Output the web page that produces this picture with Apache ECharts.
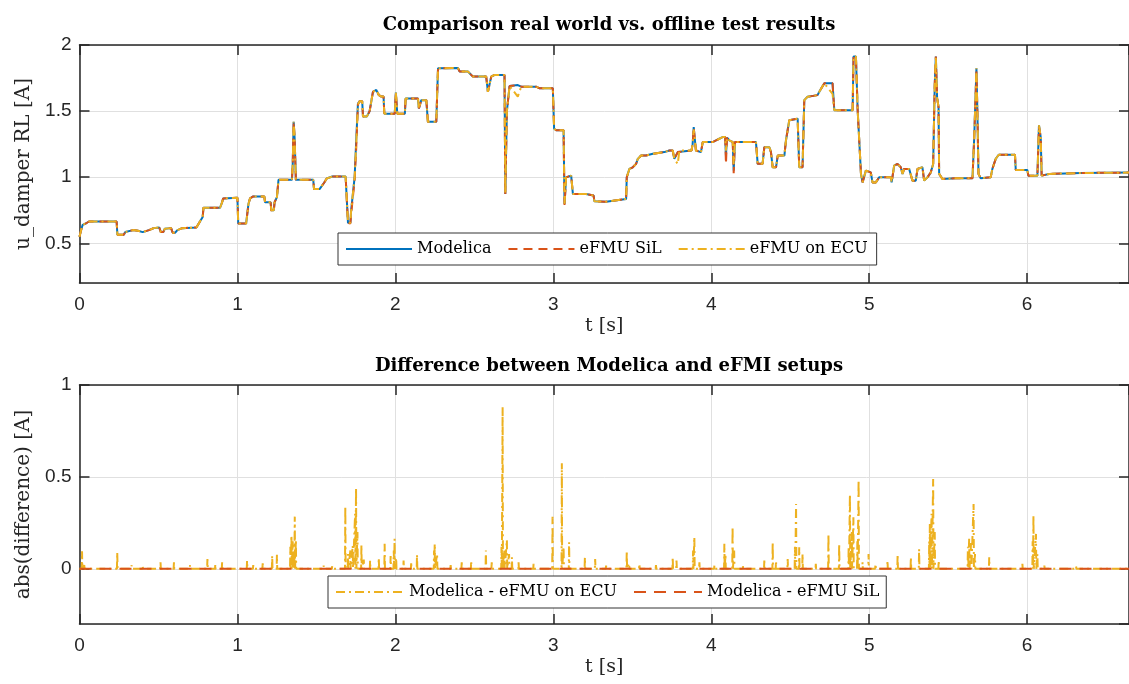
<!DOCTYPE html>
<html>
<head>
<meta charset="utf-8">
<script src="https://cdn.jsdelivr.net/npm/echarts@6/dist/echarts.min.js"></script>
<style>
html,body{margin:0;padding:0;background:#fff;}
#chart{width:1129px;height:684px;}
</style>
</head>
<body>
<div id="chart"></div>
<script>
// ---------- Top panel: time stamps [s] ----------
const topTime = [
0, 0.01, 0.02, 0.04, 0.06, 0.235, 0.24, 0.28, 0.29, 0.30,
0.34, 0.37, 0.40, 0.44, 0.47, 0.505, 0.515, 0.53, 0.54, 0.58,
0.59, 0.605, 0.62, 0.65, 0.74, 0.76, 0.78, 0.785, 0.89, 0.90,
0.91, 1.0, 1.005, 1.055, 1.07, 1.08, 1.10, 1.17, 1.175, 1.21,
1.215, 1.23, 1.235, 1.25, 1.26, 1.345, 1.35, 1.356, 1.362, 1.37,
1.48, 1.485, 1.52, 1.55, 1.565, 1.60, 1.685, 1.70, 1.715, 1.72,
1.742, 1.752, 1.763, 1.774, 1.79, 1.795, 1.82, 1.837, 1.858, 1.879,
1.896, 1.911, 1.925, 1.93, 1.996, 2.003, 2.012, 2.06, 2.065, 2.143,
2.149, 2.164, 2.196, 2.206, 2.259, 2.27, 2.28, 2.396, 2.407, 2.459,
2.491, 2.575, 2.586, 2.607, 2.628, 2.691, 2.696, 2.706, 2.723, 2.733,
2.775, 2.797, 2.891, 2.913, 2.997, 3.005, 3.018, 3.065, 3.071, 3.081,
3.092, 3.113, 3.124, 3.208, 3.255, 3.26, 3.334, 3.34, 3.461, 3.465,
3.482, 3.503, 3.524, 3.535, 3.556, 3.587, 3.63, 3.703, 3.735, 3.756,
3.766, 3.788, 3.798, 3.875, 3.882, 3.889, 3.895, 3.903, 3.935, 3.946,
4.009, 4.03, 4.051, 4.072, 4.088, 4.093, 4.10, 4.115, 4.136, 4.142,
4.15, 4.283, 4.294, 4.325, 4.336, 4.368, 4.378, 4.389, 4.41, 4.421,
4.463, 4.473, 4.494, 4.547, 4.557, 4.578, 4.589, 4.61, 4.673, 4.684,
4.716, 4.768, 4.779, 4.895, 4.901, 4.916, 4.927, 4.937, 4.948, 4.958,
4.979, 5.01, 5.021, 5.042, 5.063, 5.137, 5.142, 5.147, 5.158, 5.179,
5.2, 5.211, 5.221, 5.253, 5.274, 5.295, 5.306, 5.337, 5.348, 5.369,
5.39, 5.405, 5.415, 5.422, 5.43, 5.439, 5.443, 5.464, 5.548, 5.654,
5.665, 5.679, 5.685, 5.692, 5.706, 5.769, 5.78, 5.801, 5.82, 5.923,
5.928, 6.001, 6.008, 6.065, 6.075, 6.086, 6.092, 6.139, 6.339, 6.349,
6.645
];

// u_damper RL [A], Modelica
const modelicaValues = [
0.55, 0.60, 0.64, 0.65, 0.665, 0.665, 0.565, 0.565, 0.585, 0.595,
0.60, 0.595, 0.585, 0.60, 0.615, 0.62, 0.585, 0.585, 0.61, 0.615,
0.58, 0.58, 0.60, 0.615, 0.62, 0.66, 0.70, 0.77, 0.77, 0.80,
0.84, 0.845, 0.65, 0.65, 0.80, 0.84, 0.855, 0.855, 0.81, 0.81,
0.75, 0.75, 0.81, 0.85, 0.98, 0.98, 1.10, 1.42, 1.30, 0.98,
0.98, 0.91, 0.91, 0.96, 0.99, 1.005, 1.005, 0.655, 0.655, 0.75,
1.0, 1.28, 1.557, 1.575, 1.575, 1.46, 1.46, 1.50, 1.646, 1.66,
1.62, 1.61, 1.61, 1.48, 1.48, 1.64, 1.48, 1.48, 1.596, 1.596,
1.52, 1.583, 1.583, 1.419, 1.419, 1.824, 1.837, 1.826, 1.80, 1.80,
1.761, 1.761, 1.646, 1.761, 1.774, 1.774, 0.873, 1.50, 1.69, 1.697,
1.697, 1.685, 1.685, 1.672, 1.672, 1.368, 1.355, 1.355, 0.797, 0.999,
1.012, 1.012, 0.873, 0.873, 0.861, 0.818, 0.815, 0.828, 0.836, 1.0,
1.063, 1.075, 1.101, 1.139, 1.164, 1.164, 1.177, 1.19, 1.202, 1.202,
1.139, 1.19, 1.202, 1.202, 1.25, 1.38, 1.30, 1.202, 1.19, 1.266,
1.266, 1.278, 1.291, 1.304, 1.304, 1.164, 1.30, 1.278, 1.266, 1.05,
1.266, 1.266, 1.101, 1.101, 1.227, 1.227, 1.19, 1.075, 1.075, 1.164,
1.164, 1.278, 1.431, 1.443, 1.075, 1.075, 1.583, 1.608, 1.621, 1.646,
1.71, 1.71, 1.507, 1.507, 1.913, 1.913, 1.507, 1.507, 1.025, 0.961,
1.05, 1.037, 0.961, 0.961, 0.999, 0.999, 0.961, 0.999, 1.088, 1.101,
1.075, 1.025, 1.063, 1.063, 0.974, 0.974, 1.063, 1.075, 0.974, 0.999,
1.037, 1.10, 1.70, 1.913, 1.60, 1.532, 1.025, 0.987, 0.992, 0.992,
1.30, 1.824, 1.50, 1.025, 0.992, 0.999, 1.063, 1.139, 1.17, 1.17,
1.055, 1.055, 1.012, 1.012, 1.393, 1.304, 1.012, 1.025, 1.032, 1.037,
1.035
];

// u_damper RL [A], eFMU SiL
const silValues = [
0.55, 0.60, 0.64, 0.65, 0.665, 0.665, 0.565, 0.565, 0.585, 0.595,
0.60, 0.595, 0.585, 0.60, 0.615, 0.62, 0.585, 0.585, 0.61, 0.615,
0.58, 0.58, 0.60, 0.615, 0.62, 0.66, 0.70, 0.77, 0.77, 0.80,
0.84, 0.845, 0.65, 0.65, 0.80, 0.84, 0.855, 0.855, 0.81, 0.81,
0.74, 0.74, 0.81, 0.85, 0.98, 0.98, 1.10, 1.42, 1.30, 0.98,
0.98, 0.91, 0.91, 0.96, 0.99, 1.005, 1.005, 0.655, 0.65, 0.72,
0.98, 1.22, 1.55, 1.575, 1.575, 1.46, 1.46, 1.50, 1.646, 1.66,
1.62, 1.61, 1.61, 1.48, 1.48, 1.64, 1.48, 1.48, 1.596, 1.596,
1.52, 1.583, 1.583, 1.419, 1.419, 1.824, 1.837, 1.826, 1.80, 1.80,
1.761, 1.761, 1.646, 1.761, 1.774, 1.774, 0.873, 1.50, 1.69, 1.697,
1.697, 1.685, 1.685, 1.672, 1.672, 1.368, 1.355, 1.355, 0.79, 0.999,
1.012, 1.012, 0.873, 0.873, 0.861, 0.818, 0.815, 0.828, 0.836, 1.0,
1.063, 1.075, 1.101, 1.139, 1.164, 1.164, 1.177, 1.19, 1.202, 1.202,
1.139, 1.19, 1.202, 1.202, 1.25, 1.38, 1.30, 1.202, 1.19, 1.266,
1.266, 1.278, 1.291, 1.304, 1.304, 1.10, 1.30, 1.278, 1.266, 1.03,
1.266, 1.266, 1.101, 1.101, 1.227, 1.227, 1.19, 1.075, 1.075, 1.164,
1.164, 1.278, 1.431, 1.443, 1.075, 1.075, 1.583, 1.608, 1.621, 1.646,
1.71, 1.71, 1.507, 1.507, 1.913, 1.913, 1.507, 1.507, 1.025, 0.961,
1.05, 1.037, 0.961, 0.961, 0.999, 0.999, 0.961, 0.999, 1.088, 1.101,
1.075, 1.025, 1.063, 1.063, 0.974, 0.974, 1.063, 1.075, 0.974, 0.999,
1.037, 1.10, 1.70, 1.913, 1.60, 1.532, 1.025, 0.987, 0.992, 0.992,
1.30, 1.80, 1.50, 1.025, 0.992, 0.999, 1.063, 1.139, 1.17, 1.17,
1.055, 1.055, 1.012, 1.012, 1.38, 1.304, 1.012, 1.025, 1.032, 1.037,
1.035
];

// u_damper RL [A], eFMU on ECU
const ecuValues = [
0.55, 0.60, 0.64, 0.65, 0.665, 0.665, 0.565, 0.565, 0.585, 0.595,
0.60, 0.595, 0.585, 0.60, 0.615, 0.62, 0.585, 0.585, 0.61, 0.615,
0.58, 0.58, 0.60, 0.615, 0.62, 0.66, 0.70, 0.77, 0.77, 0.80,
0.84, 0.845, 0.65, 0.65, 0.80, 0.84, 0.855, 0.855, 0.81, 0.81,
0.75, 0.75, 0.81, 0.85, 0.98, 0.98, 1.10, 1.42, 1.30, 0.98,
0.98, 0.91, 0.91, 0.96, 0.99, 1.005, 1.005, 0.655, 0.655, 0.75,
1.0, 1.25, 1.55, 1.575, 1.575, 1.46, 1.46, 1.50, 1.646, 1.66,
1.62, 1.61, 1.61, 1.48, 1.48, 1.64, 1.48, 1.48, 1.596, 1.596,
1.52, 1.583, 1.583, 1.419, 1.419, 1.824, 1.837, 1.826, 1.80, 1.80,
1.761, 1.761, 1.646, 1.761, 1.774, 1.774, 0.88, 1.50, 1.69, 1.697,
1.61, 1.685, 1.685, 1.672, 1.672, 1.368, 1.355, 1.355, 0.80, 0.999,
1.012, 1.012, 0.873, 0.873, 0.861, 0.818, 0.815, 0.828, 0.836, 1.0,
1.063, 1.075, 1.101, 1.139, 1.164, 1.164, 1.177, 1.19, 1.202, 1.202,
1.139, 1.10, 1.202, 1.202, 1.25, 1.36, 1.30, 1.202, 1.19, 1.266,
1.266, 1.278, 1.291, 1.304, 1.304, 1.20, 1.30, 1.278, 1.266, 1.10,
1.266, 1.266, 1.101, 1.101, 1.227, 1.227, 1.19, 1.075, 1.075, 1.164,
1.164, 1.278, 1.431, 1.443, 1.075, 1.075, 1.583, 1.608, 1.621, 1.646,
1.71, 1.63, 1.507, 1.507, 1.913, 1.913, 1.507, 1.507, 1.025, 0.961,
1.05, 1.037, 0.961, 0.961, 0.999, 0.999, 0.961, 0.999, 1.088, 1.101,
1.075, 1.025, 1.063, 1.063, 0.974, 0.974, 1.063, 1.075, 0.974, 0.999,
1.037, 1.10, 1.70, 1.913, 1.60, 1.532, 1.025, 0.987, 0.992, 0.992,
1.30, 1.824, 1.50, 1.025, 0.992, 0.999, 1.063, 1.139, 1.17, 1.17,
1.055, 1.055, 1.012, 1.012, 1.393, 1.304, 1.012, 1.025, 1.032, 1.037,
1.035
];

// ---------- Bottom panel: |Modelica - eFMU on ECU| spikes ----------
const diffSpikeTime = [
0.016, 0.03, 0.239, 0.33, 0.40, 0.513, 0.598, 0.70, 0.81, 0.86,
0.903, 1.061, 1.10, 1.16, 1.22, 1.25, 1.335, 1.342, 1.35, 1.358,
1.363, 1.37, 1.546, 1.60, 1.683, 1.70, 1.715, 1.73, 1.745, 1.751,
1.76, 1.785, 1.80, 1.84, 1.895, 1.932, 1.97, 1.99, 1.995, 2.005,
2.052, 2.10, 2.137, 2.245, 2.249, 2.264, 2.35, 2.42, 2.48, 2.573,
2.61, 2.672, 2.679, 2.69, 2.706, 2.72, 2.738, 2.78, 2.875, 2.995,
3.054, 3.065, 3.10, 3.20, 3.265, 3.334, 3.465, 3.48, 3.545, 3.65,
3.756, 3.78, 3.885, 3.893, 3.925, 4.02, 4.083, 4.09, 4.135, 4.145,
4.20, 4.336, 4.389, 4.41, 4.484, 4.53, 4.537, 4.557, 4.578, 4.662,
4.742, 4.81, 4.87, 4.878, 4.89, 4.90, 4.925, 4.933, 4.958, 4.996,
5.04, 5.116, 5.18, 5.264, 5.316, 5.38, 5.384, 5.395, 5.405, 5.415,
5.44, 5.625, 5.633, 5.645, 5.661, 5.67, 5.76, 5.97, 6.035, 6.04,
6.056, 6.065, 6.109, 6.31
];
const diffSpikePeak = [
0.096, 0.02, 0.09, 0.02, 0.015, 0.036, 0.036, 0.02, 0.054, 0.025,
0.036, 0.045, 0.02, 0.03, 0.072, 0.076, 0.12, 0.18, 0.15, 0.10,
0.284, 0.16, 0.018, 0.015, 0.339, 0.08, 0.10, 0.127, 0.30, 0.44,
0.20, 0.13, 0.05, 0.045, 0.06, 0.136, 0.07, 0.10, 0.163, 0.06,
0.045, 0.03, 0.078, 0.10, 0.136, 0.08, 0.02, 0.036, 0.045, 0.10,
0.036, 0.12, 0.879, 0.10, 0.158, 0.08, 0.063, 0.036, 0.027, 0.284,
0.574, 0.12, 0.145, 0.063, 0.054, 0.018, 0.10, 0.03, 0.027, 0.02,
0.063, 0.045, 0.10, 0.172, 0.036, 0.018, 0.136, 0.08, 0.23, 0.10,
0.018, 0.045, 0.145, 0.045, 0.054, 0.12, 0.353, 0.118, 0.08, 0.027,
0.19, 0.136, 0.12, 0.404, 0.20, 0.28, 0.15, 0.484, 0.036, 0.08,
0.027, 0.045, 0.08, 0.063, 0.108, 0.15, 0.245, 0.30, 0.489, 0.20,
0.045, 0.12, 0.163, 0.14, 0.353, 0.08, 0.063, 0.027, 0.15, 0.29,
0.19, 0.08, 0.018, 0.013
];
// |Modelica - eFMU SiL| (identically zero)
const silDiffTime = [0, 6.645];
const silDiffValue = [0, 0];

// ---------- Axis ticks ----------
const xTicks = [0, 1, 2, 3, 4, 5, 6];
const xMax = 6.645;

// ---------- build series data ----------
const zip = (t, v) => t.map((x, i) => [x, v[i]]);
const ecuDiffData = [[0, 0]];
diffSpikeTime.forEach((t, i) => {
  ecuDiffData.push([t - 0.002, 0], [t, diffSpikePeak[i]], [t + 0.002, 0]);
});
ecuDiffData.push([xMax, 0]);

const C_BLUE = '#0072BD', C_ORANGE = '#D95319', C_YELLOW = '#EDB120';
const AX = '#262626';
const serif = 'DejaVu Serif';
const sans = 'Liberation Sans';

function xAxes(gi) {
  return [
    { type: 'value', gridIndex: gi, min: 0, max: xMax, interval: 1, position: 'bottom',
      name: 't [s]', nameLocation: 'middle', nameGap: 34,
      nameTextStyle: { fontFamily: serif, fontSize: 19, color: AX },
      axisLine: { show: true, onZero: false, lineStyle: { color: AX, width: 1.5 } },
      axisTick: { show: true, inside: true, length: 10, lineStyle: { color: AX, width: 1.5 } },
      axisLabel: { margin: 12, fontFamily: sans, fontSize: 19, color: AX, showMaxLabel: false },
      splitLine: { show: true, lineStyle: { color: '#e0e0e0', width: 1 } } },
    { type: 'value', gridIndex: gi, min: 0, max: xMax, interval: 1, position: 'top',
      axisLine: { show: true, onZero: false, lineStyle: { color: AX, width: 1.5 } },
      axisTick: { show: true, inside: true, length: 10, lineStyle: { color: AX, width: 1.5 } },
      axisLabel: { show: false }, splitLine: { show: false } }
  ];
}
function yAxes(gi, min, max, name) {
  return [
    { type: 'value', gridIndex: gi, min: min, max: max, splitNumber: 3, position: 'left',
      name: name, nameLocation: 'middle', nameGap: 45,
      nameTextStyle: { fontFamily: serif, fontSize: 20, color: AX },
      axisLine: { show: true, onZero: false, lineStyle: { color: AX, width: 1.5 } },
      axisTick: { show: true, inside: true, length: 10, lineStyle: { color: AX, width: 1.5 } },
      axisLabel: { margin: 8, fontFamily: sans, fontSize: 19, color: AX, showMinLabel: false },
      splitLine: { show: true, lineStyle: { color: '#e0e0e0', width: 1 } } },
    { type: 'value', gridIndex: gi, min: min, max: max, splitNumber: 3, position: 'right',
      axisLine: { show: true, onZero: false, lineStyle: { color: AX, width: 1.5 } },
      axisTick: { show: true, inside: true, length: 10, lineStyle: { color: AX, width: 1.5 } },
      axisLabel: { show: false }, splitLine: { show: false } }
  ];
}

const chart = echarts.init(document.getElementById('chart'), null, { renderer: 'canvas' });
const lineBase = { type: 'line', showSymbol: false, symbol: 'none', animation: false };
const legendCommon = {
  orient: 'horizontal', itemHeight: 14, itemStyle: { opacity: 0 },
  backgroundColor: '#fff', borderColor: '#333', borderWidth: 1, borderRadius: 0,
  textStyle: { fontFamily: serif, fontSize: 16, color: '#000' }
};

chart.setOption({
  backgroundColor: '#ffffff',
  animation: false,
  title: [
    { text: 'Comparison real world vs. offline test results', left: 604, top: 11, textAlign: 'center',
      textStyle: { fontFamily: serif, fontWeight: 'bold', fontSize: 18, color: '#000' } },
    { text: 'Difference between Modelica and eFMI setups', left: 604, top: 352, textAlign: 'center',
      textStyle: { fontFamily: serif, fontWeight: 'bold', fontSize: 18, color: '#000' } }
  ],
  grid: [
    { left: 79.5, top: 45, width: 1050, height: 238 },
    { left: 79.5, top: 385, width: 1050, height: 239 }
  ],
  xAxis: [...xAxes(0), ...xAxes(1)],
  yAxis: [...yAxes(0, 0.2, 2, 'u_damper RL [A]'), ...yAxes(1, -0.3, 1, 'abs(difference) [A]')],
  legend: [
    Object.assign({}, legendCommon, { data: ['Modelica', 'eFMU SiL', 'eFMU on ECU'], left: 338, top: 233,
      padding: [8, 9, 8, 7], itemGap: 16, itemWidth: 66 }),
    Object.assign({}, legendCommon, { data: ['Modelica - eFMU on ECU', 'Modelica - eFMU SiL'], left: 328, top: 576,
      padding: [8, 7, 8, 7], itemGap: 16, itemWidth: 68 })
  ],
  series: [
    Object.assign({}, lineBase, { name: 'Modelica', xAxisIndex: 0, yAxisIndex: 0,
      data: zip(topTime, modelicaValues), color: C_BLUE, lineStyle: { color: C_BLUE, width: 2, type: 'solid' } }),
    Object.assign({}, lineBase, { name: 'eFMU SiL', xAxisIndex: 0, yAxisIndex: 0,
      data: zip(topTime, silValues), color: C_ORANGE, lineStyle: { color: C_ORANGE, width: 2, type: [9, 6] } }),
    Object.assign({}, lineBase, { name: 'eFMU on ECU', xAxisIndex: 0, yAxisIndex: 0,
      data: zip(topTime, ecuValues), color: C_YELLOW, lineStyle: { color: C_YELLOW, width: 2, type: [9, 4, 2, 4] } }),
    Object.assign({}, lineBase, { name: 'Modelica - eFMU on ECU', xAxisIndex: 2, yAxisIndex: 2,
      data: ecuDiffData, color: C_YELLOW, lineStyle: { color: C_YELLOW, width: 2, type: [9, 4, 2, 4] } }),
    Object.assign({}, lineBase, { name: 'Modelica - eFMU SiL', xAxisIndex: 2, yAxisIndex: 2,
      data: zip(silDiffTime, silDiffValue), color: C_ORANGE, lineStyle: { color: C_ORANGE, width: 2, type: [12, 8] } })
  ]
});
</script>
</body>
</html>
